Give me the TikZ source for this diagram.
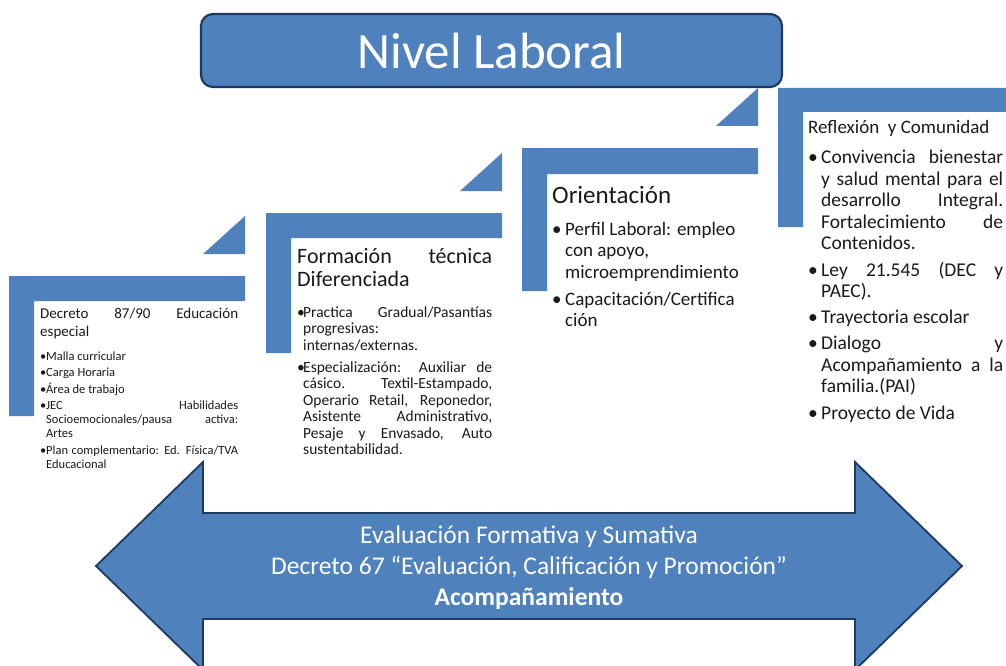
\documentclass[tikz,border=0pt]{standalone}
\usepackage{fontspec}
\setmainfont{Carlito}
\usepackage{tikz}
\definecolor{stepblue}{HTML}{4F81BD}
\definecolor{darkline}{HTML}{1F3A5F}
\definecolor{textdark}{HTML}{1A1A1A}
\newcommand{\bitem}[1]{\par\hangindent=#1\hangafter=1\noindent\makebox[#1][l]{\textbullet}\ignorespaces}
\hbadness=10000
\hyphenpenalty=10000
\tolerance=10000

\begin{document}
\begin{tikzpicture}[line cap=round,line join=round,x=1pt,y=-1pt,
    stepfill/.style={fill=stepblue},
    steptext/.style={anchor=base west,inner sep=0pt,align=justify,text=textdark},
    titlebox/.style={draw=darkline,line width=2.2pt,fill=stepblue,rounded corners=12pt,text=white,minimum width=581pt,minimum height=73pt,font=\fontsize{51}{60}\selectfont}]
                \clip (0,0) rectangle (1006,666);
                \fill [white] (0,0) rectangle (1006,666);
                \fill [stepfill] (9,276)-- (245,276)-- (245,301)-- (34,301)-- (34,416)-- (9,416)-- cycle;
                \fill [stepfill] (203,254)-- (245,254)-- (245,216)-- cycle;
                \fill [stepfill] (266,213)-- (502,213)-- (502,238)-- (291,238)-- (291,353)-- (266,353)-- cycle;
                \fill [stepfill] (460,191)-- (502,191)-- (502,153)-- cycle;
                \fill [stepfill] (522,148)-- (758,148)-- (758,174)-- (547,174)-- (547,291)-- (522,291)-- cycle;
                \fill [stepfill] (716,126)-- (758,126)-- (758,88)-- cycle;
                \fill [stepfill] (778,88)-- (1014,88)-- (1014,112)-- (803,112)-- (803,227)-- (778,227)-- cycle;
                \node [titlebox] (nivel) at (491.5,50.5) {Nivel Laboral};
                \draw [darkline,line width=1.8pt,fill=stepblue,line join=miter] (96,566)-- (203,462)-- (203,513)-- (855,513)-- (855,462)-- (962,566)-- (855,670)-- (855,619)-- (203,619)-- (203,670)-- cycle;
                \node [text=white,align=center,font=\fontsize{25.5}{31}\selectfont] (eval) at (529,568) {Evaluación Formativa y Sumativa\\Decreto 67 “Evaluación, Calificación y Promoción”\\\textbf{Acompañamiento}};
                \node [steptext,text width=198pt,font=\fontsize{15}{18}\selectfont] (decreto) at (40,318) {Decreto 87/90 Educación\linebreak especial\par
                    \fontsize{12.5}{14}\selectfont\setlength{\parskip}{2.5pt}\vspace{7.5pt}
                    \bitem{6pt}Malla curricular
                    \bitem{6pt}Carga Horaria
                    \bitem{6pt}Área de trabajo
                    \bitem{6pt}JEC Habilidades\linebreak Socioemocionales/pausa activa:\linebreak Artes
                    \bitem{6pt}Plan complementario: Ed. Física/TVA\linebreak Educacional\par};
                \node [steptext,text width=195pt,font=\fontsize{22}{23}\selectfont] (formacion) at (297,263) {Formación técnica\linebreak Diferenciada\par
                    \fontsize{15.5}{16.5}\selectfont\setlength{\parskip}{5.5pt}\vspace{9pt}
                    \bitem{6pt}Practica Gradual/Pasantías\linebreak progresivas:\newline internas/externas.
                    \bitem{6pt}Especialización: Auxiliar de\linebreak cásico. Textil-Estampado,\linebreak Operario Retail, Reponedor,\linebreak Asistente Administrativo,\linebreak Pesaje y Envasado, Auto\linebreak sustentabilidad.\par};
                \node [steptext,text width=196pt,font=\fontsize{25}{25}\selectfont] (orientacion) at (552,203) {Orientación\par
                    \fontsize{19}{21.5}\selectfont\setlength{\parskip}{5.5pt}\vspace{5pt}
                    \bitem{13pt}Perfil Laboral: empleo\newline con apoyo,\newline microemprendimiento
                    \bitem{13pt}Capacitación/Certifica\newline ción\par};
                \node [steptext,text width=195pt,font=\fontsize{19}{21}\selectfont] (reflexion) at (808,134) {Reflexión~ y Comunidad\par
                    \fontsize{19.5}{21.6}\selectfont\setlength{\parskip}{4.5pt}\vspace{3.4pt}
                    \bitem{13pt}Convivencia bienestar\linebreak y salud mental para el\linebreak desarrollo Integral.\linebreak Fortalecimiento de\linebreak Contenidos.
                    \bitem{13pt}Ley 21.545 (DEC y\linebreak PAEC).
                    \bitem{13pt}Trayectoria escolar
                    \bitem{13pt}Dialogo y\linebreak Acompañamiento a la\linebreak familia.(PAI)
                    \bitem{13pt}Proyecto de Vida\par};
\end{tikzpicture}
\end{document}
